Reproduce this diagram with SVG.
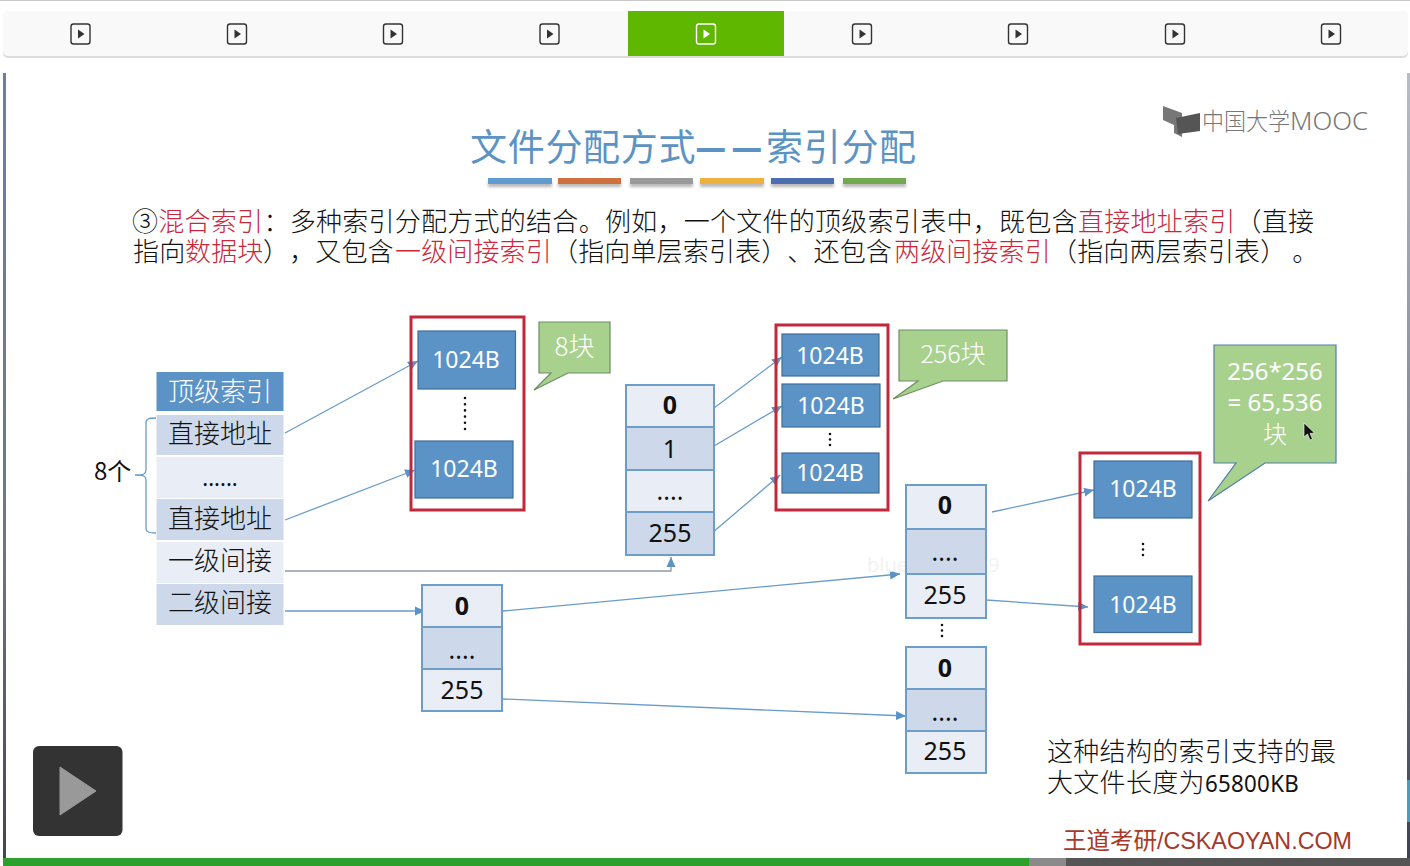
<svg xmlns="http://www.w3.org/2000/svg" width="1410" height="866" viewBox="0 0 1410 866">
<style>
text{font-family:"Noto Sans CJK SC","Noto Sans",sans-serif;text-spacing-trim:space-all}
.cjk{font-family:"Noto Sans CJK SC",sans-serif;font-weight:300}
.num{font-family:"Noto Sans","Open Sans",sans-serif}
.body{font-size:26px;fill:#111}
.red{fill:#c8283c}
.tb{font-size:26px;fill:#111;text-anchor:middle}
.cell-l{fill:#e9eef6;stroke:#6d9dc9;stroke-width:2}
.cell-d{fill:#cdd9ea;stroke:#6d9dc9;stroke-width:2}
.idx{font-size:25px;fill:#111;text-anchor:middle}
.b{font-weight:700}
.blk{fill:#5b93c6;stroke:#3e6d9a;stroke-width:1.2}
.blkt{font-size:23px;fill:#fff;text-anchor:middle}
.redbox{fill:none;stroke:#c2283c;stroke-width:3}
.call{fill:#a9d18e;stroke:#6b8f62;stroke-width:1.2}
.callt{font-size:24px;fill:#fff;text-anchor:middle}
.tab{fill:none;stroke:#333;stroke-width:1.4}
.conn{fill:none;stroke:#6a9cc9;stroke-width:1.3;marker-end:url(#arr)}
.dots{stroke:#111;stroke-width:2.6;stroke-linecap:round;stroke-dasharray:0 6.2;fill:none}
.ttl{font-size:37px;fill:#5b93c4;font-weight:400;letter-spacing:0.7px}
.dash{font-size:32px;fill:#5b93c4;stroke:#5b93c4;stroke-width:2.2}
</style>
<defs>
<marker id="arr" markerUnits="userSpaceOnUse" markerWidth="11" markerHeight="11" refX="10" refY="5.5" orient="auto"><path d="M0 1L10 5.5L0 10z" fill="#5b93c6"/></marker>
<filter id="sh" x="-10%" y="-50%" width="120%" height="250%"><feGaussianBlur stdDeviation="1.6"/></filter>
<linearGradient id="edge" x1="0" y1="0" x2="0" y2="1"><stop offset="0" stop-color="#b8bcc4"/><stop offset="0.6" stop-color="#777c88"/><stop offset="1" stop-color="#3d4250"/></linearGradient>
<linearGradient id="ledge" x1="0" y1="0" x2="0" y2="1"><stop offset="0" stop-color="#6f7f9f"/><stop offset="0.6" stop-color="#717684"/><stop offset="1" stop-color="#44464e"/></linearGradient>
</defs>
<rect width="1410" height="866" fill="#fff"/>
<rect width="1410" height="1" fill="#c9c9c9"/>
<g id="tabbar">
<rect x="3" y="13" width="1405" height="45" rx="5" fill="#dcdcdc"/>
<rect x="3" y="11" width="1405" height="45" rx="5" fill="#f9f9f9"/>
<rect x="628" y="11" width="156" height="45" fill="#5fb700"/>
<g id="tab-icons">
<g transform="translate(80.5 34)"><rect class="tab" x="-9.5" y="-10" width="19" height="20" rx="2.5"/><path d="M-2.5-4.5L4 0L-2.5 4.5z" fill="#333"/></g>
<g transform="translate(237 34)"><rect class="tab" x="-9.5" y="-10" width="19" height="20" rx="2.5"/><path d="M-2.5-4.5L4 0L-2.5 4.5z" fill="#333"/></g>
<g transform="translate(393 34)"><rect class="tab" x="-9.5" y="-10" width="19" height="20" rx="2.5"/><path d="M-2.5-4.5L4 0L-2.5 4.5z" fill="#333"/></g>
<g transform="translate(549.5 34)"><rect class="tab" x="-9.5" y="-10" width="19" height="20" rx="2.5"/><path d="M-2.5-4.5L4 0L-2.5 4.5z" fill="#333"/></g>
<g transform="translate(706 34)"><rect class="tab" style="stroke:#fff" x="-9.5" y="-10" width="19" height="20" rx="2.5"/><path d="M-2.5-4.5L4 0L-2.5 4.5z" fill="#fff"/></g>
<g transform="translate(862 34)"><rect class="tab" x="-9.5" y="-10" width="19" height="20" rx="2.5"/><path d="M-2.5-4.5L4 0L-2.5 4.5z" fill="#333"/></g>
<g transform="translate(1018 34)"><rect class="tab" x="-9.5" y="-10" width="19" height="20" rx="2.5"/><path d="M-2.5-4.5L4 0L-2.5 4.5z" fill="#333"/></g>
<g transform="translate(1175 34)"><rect class="tab" x="-9.5" y="-10" width="19" height="20" rx="2.5"/><path d="M-2.5-4.5L4 0L-2.5 4.5z" fill="#333"/></g>
<g transform="translate(1331 34)"><rect class="tab" x="-9.5" y="-10" width="19" height="20" rx="2.5"/><path d="M-2.5-4.5L4 0L-2.5 4.5z" fill="#333"/></g>
</g>
</g>
<rect x="3" y="73" width="3" height="786" fill="url(#ledge)"/>
<rect x="1407" y="73" width="3" height="786" fill="url(#edge)"/>
<rect x="1407" y="780" width="3" height="42" fill="#4f9ab8"/>
<g id="logo">
<path d="M1163 106L1182 113L1182 137L1174 133L1174 125L1163 120z" fill="#777"/>
<path d="M1176 118L1200 113L1200 131L1178 134z" fill="#555"/>
<text class="cjk" x="1202" y="130" font-size="24" fill="#777" textLength="88" lengthAdjust="spacingAndGlyphs">中国大学</text>
<text class="num" x="1290" y="130" font-size="25" fill="#777" font-weight="300" textLength="78" lengthAdjust="spacingAndGlyphs">MOOC</text>
</g>
<g id="title">
<text class="ttl" x="470" y="161">文件分配方式</text>
<text class="dash" x="696.500" y="159">—</text>
<text class="dash" x="732.500" y="159">—</text>
<text class="ttl" x="766" y="161">索引分配</text>
<g filter="url(#sh)" fill="#999" opacity="0.7"><rect x="488" y="182" width="64" height="5"/><rect x="558" y="182" width="63" height="5"/><rect x="630" y="182" width="63" height="5"/><rect x="700" y="182" width="64" height="5"/><rect x="771" y="182" width="63" height="5"/><rect x="843" y="182" width="63" height="5"/></g>
<rect x="488" y="178" width="64" height="6" fill="#5f9bcf"/><rect x="558" y="178" width="63" height="6" fill="#d0703f"/><rect x="630" y="178" width="63" height="6" fill="#9a9a9a"/><rect x="700" y="178" width="64" height="6" fill="#eeb140"/><rect x="771" y="178" width="63" height="6" fill="#4a6eb0"/><rect x="843" y="178" width="63" height="6" fill="#72a84f"/>
</g>
<g id="intro">
<text class="body cjk" y="231" letter-spacing="0.27"><tspan x="132">③</tspan><tspan class="red" x="158.3">混合索引</tspan><tspan x="263.4">：多种索引分配方式的结合。例如，一个文件的顶级索引表中，既包含</tspan><tspan class="red" x="1078">直接地址索引</tspan><tspan x="1235.5">（直接</tspan></text>
<text class="body cjk" y="261" letter-spacing="0.15"><tspan x="133">指向</tspan><tspan class="red" x="185">数据块</tspan><tspan x="263">），又包含</tspan><tspan class="red" x="395">一级间接索引</tspan><tspan x="552">（指向单层索引表）、还包含</tspan><tspan class="red" x="894">两级间接索引</tspan><tspan x="1051">（指向两层索引表） 。</tspan></text>
</g>
<g id="connectors">
<path class="conn" d="M285 433L418 361"/>
<path class="conn" d="M285 520L415 470"/>
<path class="conn" style="stroke:#8f9aa6" d="M285 571H671V557"/>
<path class="conn" d="M285 611H425"/>
<path class="conn" d="M714 408L782 357"/>
<path class="conn" d="M714 446L782 406"/>
<path class="conn" d="M712 533L780 475"/>
<path class="conn" d="M503 611L900 574"/>
<path class="conn" d="M503 699L906 716"/>
<path class="conn" d="M992 512L1094 490"/>
<path class="conn" d="M986 600L1088 607"/>
</g>
<g id="top-index">
<rect x="156.500" y="372" width="127" height="39" fill="#5b93c6"/>
<rect x="156.500" y="415" width="127" height="40" fill="#cdd9ea"/>
<rect x="156.500" y="457" width="127" height="41" fill="#e9eef6"/>
<rect x="156.500" y="499" width="127" height="41" fill="#cdd9ea"/>
<rect x="156.500" y="542" width="127" height="41" fill="#e9eef6"/>
<rect x="156.500" y="584" width="127" height="41" fill="#cdd9ea"/>
<text class="tb cjk" x="220" y="401" style="fill:#fff">顶级索引</text>
<text class="tb cjk" x="220" y="443">直接地址</text>
<text class="tb num" x="220" y="486" style="font-size:22px">......</text>
<text class="tb cjk" x="220" y="528">直接地址</text>
<text class="tb cjk" x="220" y="570">一级间接</text>
<text class="tb cjk" x="220" y="612">二级间接</text>
</g>
<g id="brace">
<path d="M156 418C149 418 146 419 146 423V470C146 474 144 475 135 475C144 475 146 476 146 480V528C146 532 149 533 156 533" fill="none" stroke="#6a9cc9" stroke-width="1.3"/>
<text class="cjk" x="94" y="480" font-size="24" fill="#111" style="font-weight:400">8个</text>
</g>
<g id="direct-blocks">
<rect class="redbox" x="411" y="317" width="113" height="193"/>
<rect class="blk" x="418" y="331" width="97.500" height="58"/>
<text class="blkt num" x="466" y="368">1024B</text>
<rect class="blk" x="415" y="441" width="98" height="57"/>
<text class="blkt num" x="464" y="477">1024B</text>
<path class="dots" d="M465 398V429"/>
</g>
<g id="callout-8">
<path class="call" d="M539 322H610V373H568L534 390L551 373H539z"/>
<text class="callt cjk" x="574.500" y="356" style="font-size:26px">8块</text>
</g>
<g id="table-a">
<rect class="cell-l" x="422" y="585" width="80" height="42"/>
<rect class="cell-d" x="422" y="627" width="80" height="42"/>
<rect class="cell-l" x="422" y="669" width="80" height="42"/>
<text class="idx num b" x="462" y="615">0</text>
<text class="idx num" x="462" y="659">....</text>
<text class="idx num" x="462" y="699">255</text>
</g>
<g id="table-b">
<rect class="cell-l" x="626" y="385" width="88" height="42"/>
<rect class="cell-d" x="626" y="427" width="88" height="43"/>
<rect class="cell-l" x="626" y="470" width="88" height="42"/>
<rect class="cell-d" x="626" y="512" width="88" height="43"/>
<text class="idx num b" x="670" y="414">0</text>
<text class="idx num" x="670" y="458">1</text>
<text class="idx num" x="670" y="500">....</text>
<text class="idx num" x="670" y="542">255</text>
</g>
<g id="first-level-blocks">
<rect class="redbox" x="776" y="325" width="112" height="185"/>
<rect class="blk" x="782" y="334" width="97" height="42"/>
<text class="blkt num" x="830" y="364">1024B</text>
<rect class="blk" x="782" y="384" width="98" height="43"/>
<text class="blkt num" x="831" y="414">1024B</text>
<rect class="blk" x="782" y="453" width="97" height="40"/>
<text class="blkt num" x="830" y="481">1024B</text>
<path class="dots" d="M830 434V448" style="stroke-dasharray:0 5.500"/>
</g>
<g id="callout-256">
<path class="call" d="M899 330H1007V381H943L893 399L918 381H899z"/>
<text class="callt cjk" x="953" y="363" style="font-size:25px">256块</text>
</g>
<g id="watermark"><text class="num" x="867" y="572" font-size="20" fill="#f3f3f3">blue</text><text class="num" x="988" y="572" font-size="20" fill="#f3f3f3">9</text></g>
<g id="table-c">
<rect class="cell-l" x="906" y="485" width="80" height="44"/>
<rect class="cell-d" x="906" y="529" width="80" height="45"/>
<rect class="cell-l" x="906" y="574" width="80" height="44"/>
<text class="idx num b" x="945" y="514">0</text>
<text class="idx num" x="945" y="561">....</text>
<text class="idx num" x="945" y="604">255</text>
</g>
<path id="dots-cd" class="dots" d="M942 625V639" style="stroke-dasharray:0 5.500"/>
<g id="table-d">
<rect class="cell-l" x="906" y="647" width="80" height="42"/>
<rect class="cell-d" x="906" y="689" width="80" height="42"/>
<rect class="cell-l" x="906" y="731" width="80" height="42"/>
<text class="idx num b" x="945" y="677">0</text>
<text class="idx num" x="945" y="721">....</text>
<text class="idx num" x="945" y="760">255</text>
</g>
<g id="second-level-blocks">
<rect class="redbox" x="1080" y="453" width="120" height="191"/>
<rect class="blk" x="1094" y="461" width="98" height="57"/>
<text class="blkt num" x="1143" y="497">1024B</text>
<rect class="blk" x="1094" y="576" width="98" height="56.500"/>
<text class="blkt num" x="1143" y="613">1024B</text>
<path class="dots" d="M1143 544V558" style="stroke-dasharray:0 5.500"/>
</g>
<g id="callout-65536">
<path class="call" style="stroke:#4f7ca8" d="M1214 345H1336V463H1265L1208 501L1236 463H1214z"/>
<text class="callt num" x="1275" y="380">256*256</text>
<text class="callt num" x="1275" y="411">= 65,536</text>
<text class="callt cjk" x="1275" y="443">块</text>
</g>
<path id="cursor" d="M1304 423V437L1307.500 434L1310 440L1312.500 439L1310 433.500L1314.500 433z" fill="#111" stroke="#fff" stroke-width="0.6"/>
<g id="summary">
<text class="cjk" x="1047" y="761" font-size="26" fill="#111" letter-spacing="0.3">这种结构的索引支持的最</text>
<text class="cjk" x="1047" y="792" font-size="26" fill="#111" letter-spacing="0.3">大文件长度为<tspan class="num" x="1205" font-size="24" style="font-weight:400" textLength="94" lengthAdjust="spacingAndGlyphs">65800KB</tspan></text>
</g>
<g id="brand">
<text class="cjk" x="1063" y="849" font-size="23.500" fill="#a5392a" style="font-weight:400">王道考研</text>
<text x="1157" y="849" font-size="24" fill="#a5392a" style="font-family:'Liberation Sans',sans-serif" textLength="195" lengthAdjust="spacingAndGlyphs">/CSKAOYAN.COM</text>
</g>
<g id="play-button">
<rect x="33" y="746" width="89.500" height="90" rx="6" fill="#333"/>
<path d="M60 767L96 791L60 815z" fill="#999" stroke="#999" stroke-width="1" stroke-linejoin="round"/>
</g>
<g id="progress">
<rect x="3" y="858" width="1026" height="8" fill="#2ca02c"/>
<rect x="1029" y="858" width="37" height="8" fill="#8a8a8a"/>
<rect x="1066" y="858" width="344" height="8" fill="#555"/>
</g>
</svg>
